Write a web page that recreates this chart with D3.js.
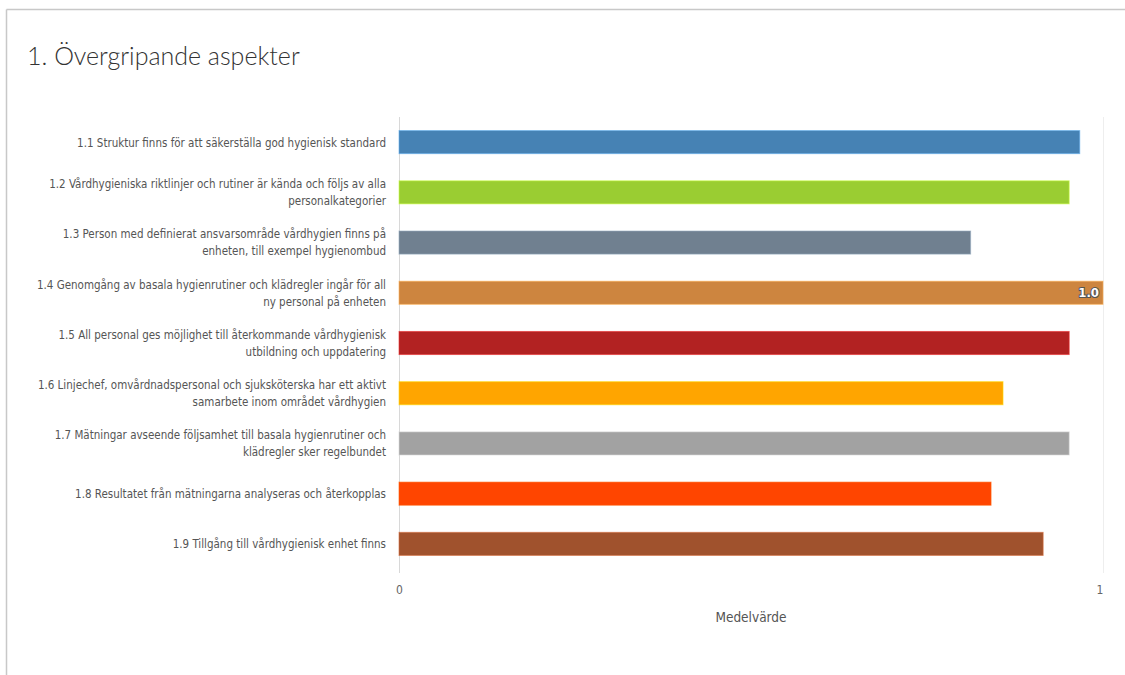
<!DOCTYPE html>
<html lang="sv">
<head>
<meta charset="utf-8">
<title>1. Övergripande aspekter</title>
<script src="https://cdn.jsdelivr.net/npm/d3@7"></script>
<style>
  html, body { margin: 0; padding: 0; background: #fff; }
  svg { display: block; }
</style>
</head>
<body>
<svg id="chart" width="1125" height="675"></svg>
<script>
// data
var categories = [
  "1.1 Struktur finns för att säkerställa god hygienisk standard",
  "1.2 Vårdhygieniska riktlinjer och rutiner är kända och följs av alla\npersonalkategorier",
  "1.3 Person med definierat ansvarsområde vårdhygien finns på\nenheten, till exempel hygienombud",
  "1.4 Genomgång av basala hygienrutiner och klädregler ingår för all\nny personal på enheten",
  "1.5 All personal ges möjlighet till återkommande vårdhygienisk\nutbildning och uppdatering",
  "1.6 Linjechef, omvårdnadspersonal och sjuksköterska har ett aktivt\nsamarbete inom området vårdhygien",
  "1.7 Mätningar avseende följsamhet till basala hygienrutiner och\nklädregler sker regelbundet",
  "1.8 Resultatet från mätningarna analyseras och återkopplas",
  "1.9 Tillgång till vårdhygienisk enhet finns"
];
var values = [0.967, 0.952, 0.812, 1.0, 0.952, 0.858, 0.952, 0.841, 0.915];
var colors = ["#4682b4", "#9acd32", "#708090", "#cd853f", "#b22222", "#ffa500", "#a2a2a2", "#ff4500", "#a0522d"];
var tickValues = [0, 1];
var labelledValues = ["1.0"]; // only 1.4 shows its value on the bar
var labelIndex = 3;

var svg = d3.select("#chart");
var labelFont = "'DejaVu Sans Condensed', 'DejaVu Sans', sans-serif";
var squeeze = 0.92; // labels in the reference are narrower than DejaVu Condensed

// frame
svg.append("line").attr("x1", 6.5).attr("x2", 1125).attr("y1", 9.5).attr("y2", 9.5)
  .attr("stroke", "#c8c8c8").attr("stroke-width", 1.5);
svg.append("line").attr("x1", 6.5).attr("x2", 6.5).attr("y1", 9.5).attr("y2", 675)
  .attr("stroke", "#c8c8c8").attr("stroke-width", 1.5);

svg.append("text")
  .attr("x", 27).attr("y", 65)
  .attr("font-family", "Lato, 'Open Sans', sans-serif")
  .attr("font-weight", 300)
  .attr("font-size", 25)
  .attr("fill", "#333")
  .text("1. Övergripande aspekter");

var x = d3.scaleLinear().domain([0, 1]).range([399, 1103]);
var y = d3.scaleBand().domain(categories).range([117, 569])
  .paddingInner(0.54).paddingOuter(0.27);

// gridlines
svg.append("g").selectAll("line")
  .data(tickValues)
  .enter().append("line")
  .attr("x1", function (d) { return x(d) + 0.5; })
  .attr("x2", function (d) { return x(d) + 0.5; })
  .attr("y1", 117).attr("y2", 573)
  .attr("stroke", function (d, i) { return i == 0 ? "#d8d8d8" : "#eeeeee"; });

// bars
svg.append("g").selectAll("rect")
  .data(values)
  .enter().append("rect")
  .attr("x", x(0))
  .attr("y", function (d, i) { return y(categories[i]); })
  .attr("width", function (d) { return x(d) - x(0); })
  .attr("height", y.bandwidth())
  .attr("fill", function (d, i) { return colors[i]; })
  .attr("stroke", function (d, i) { return d3.color(colors[i]).brighter(0.8); })
  .attr("stroke-opacity", 0.6);

// value label on 1.4
svg.append("text")
  .attr("x", x(values[labelIndex]) - 4)
  .attr("y", y(categories[labelIndex]) + y.bandwidth() / 2)
  .attr("dy", "0.35em")
  .attr("text-anchor", "end")
  .attr("font-family", labelFont)
  .attr("font-size", 13)
  .attr("font-weight", "bold")
  .attr("fill", "#fff")
  .attr("stroke", "#555")
  .attr("stroke-width", 2)
  .attr("paint-order", "stroke")
  .text(labelledValues[0]);

// category labels
var labels = svg.append("g")
  .attr("font-family", labelFont)
  .attr("font-size", 12.5)
  .attr("fill", "#555")
  .attr("text-anchor", "end")
  .selectAll("text")
  .data(categories)
  .enter().append("text")
  .attr("transform", function (d) {
    var lines = d.split("\n");
    var cy = y(d) + y.bandwidth() / 2 - (lines.length - 1) * 17 / 2;
    return "translate(386," + cy + ") scale(" + squeeze + ",1)";
  });
labels.selectAll("tspan")
  .data(function (d) { return d.split("\n"); })
  .enter().append("tspan")
  .attr("x", 0)
  .attr("y", function (d, i) { return i * 17; })
  .attr("dy", "0.35em")
  .text(function (d) { return d; });

// x axis ticks
svg.append("g")
  .attr("font-family", labelFont)
  .attr("font-size", 12)
  .attr("fill", "#666")
  .attr("text-anchor", "middle")
  .selectAll("text")
  .data(tickValues)
  .enter().append("text")
  .attr("x", function (d) { return x(d) + (d == 1 ? -3 : 0.5); })
  .attr("y", 594)
  .text(function (d) { return d; });

svg.append("text")
  .attr("x", 751).attr("y", 622)
  .attr("text-anchor", "middle")
  .attr("font-family", labelFont)
  .attr("font-size", 13.5)
  .attr("fill", "#555")
  .text("Medelvärde");
</script>
</body>
</html>
